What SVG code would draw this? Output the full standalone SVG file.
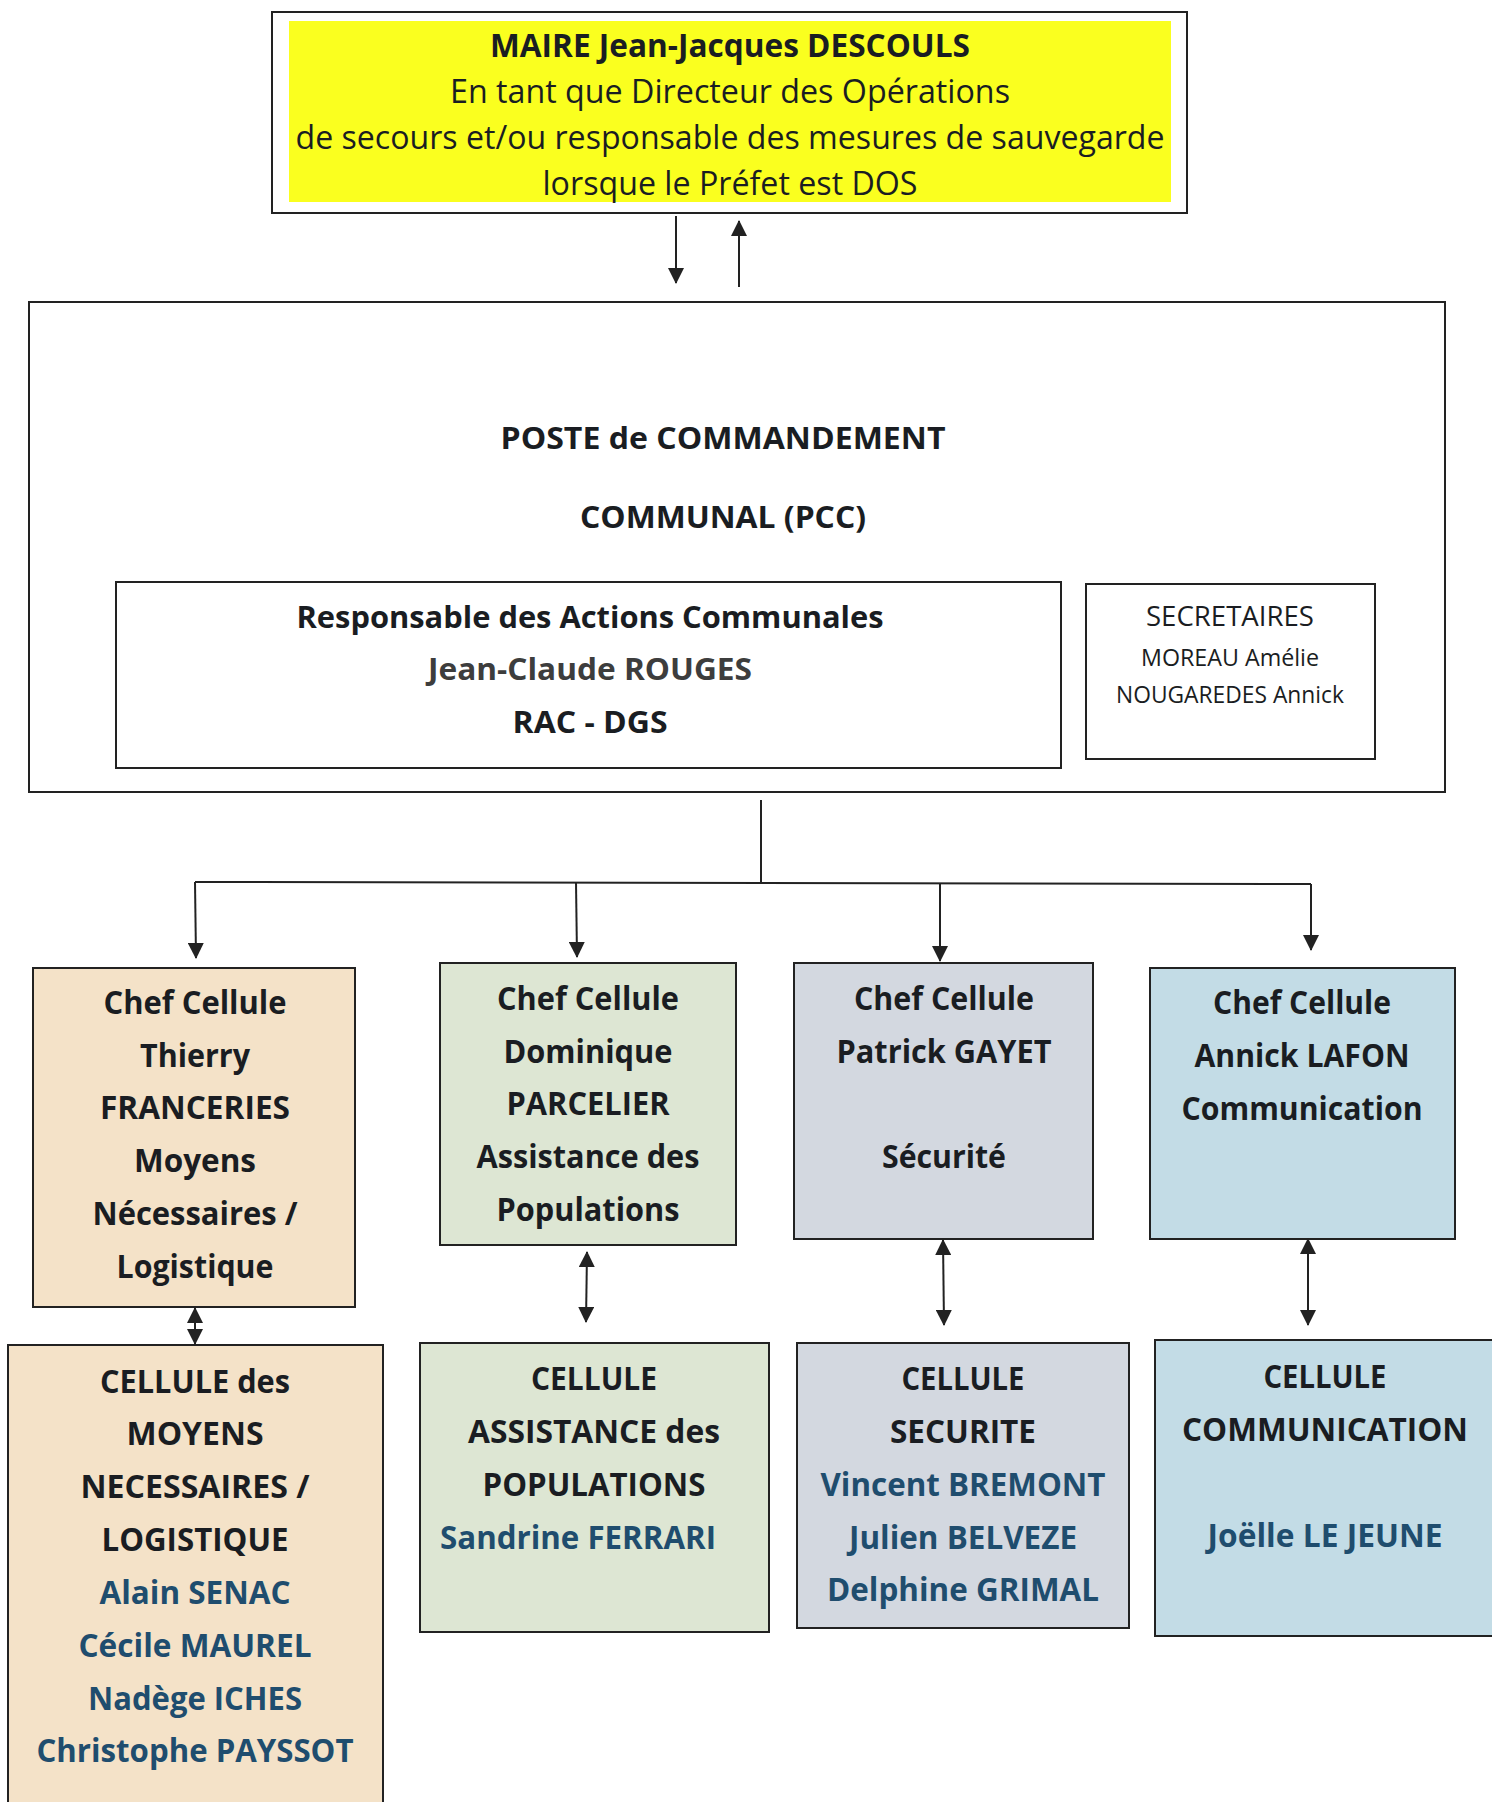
<svg xmlns="http://www.w3.org/2000/svg" width="1492" height="1802" viewBox="0 0 1492 1802">
<style>
.box{stroke:#222;stroke-width:2}
.t{font-family:"Open Sans","Noto Sans","Liberation Sans",sans-serif;text-anchor:middle}
.b{font-weight:700}
.k{fill:#1a1d22}
.n{fill:#1f4d6e}
.r{font-weight:400}
.c{stroke:#222;stroke-width:2;fill:none}
.s{font-size:33px}
</style>
<defs>
<marker id="ah" viewBox="0 0 16 16" refX="15" refY="8" markerWidth="16" markerHeight="16" markerUnits="userSpaceOnUse" orient="auto-start-reverse">
<path d="M0,0 L16,8 L0,16 Z" fill="#222"/>
</marker>
</defs>
<rect width="1492" height="1802" fill="#ffffff"/>

<g id="maire">
<rect class="box" x="272" y="12" width="915" height="201" fill="#ffffff"/>
<rect x="289" y="21" width="882" height="181" fill="#FAFF1F"/>
<text class="t b k" x="730" y="57" font-size="32" textLength="480" lengthAdjust="spacingAndGlyphs">MAIRE Jean-Jacques DESCOULS</text>
<text class="t r k" x="730" y="103" font-size="32" textLength="560" lengthAdjust="spacingAndGlyphs">En tant que Directeur des Opérations</text>
<text class="t r k" x="730" y="149" font-size="32" textLength="869" lengthAdjust="spacingAndGlyphs">de secours et/ou responsable des mesures de sauvegarde</text>
<text class="t r k" x="730" y="195" font-size="32" textLength="375" lengthAdjust="spacingAndGlyphs">lorsque le Préfet est DOS</text>
</g>

<g id="pcc">
<rect class="box" x="29" y="302" width="1416" height="490" fill="#ffffff"/>
<text class="t b k" x="723" y="449" font-size="31" textLength="445" lengthAdjust="spacingAndGlyphs">POSTE de COMMANDEMENT</text>
<text class="t b k" x="723" y="528" font-size="31" textLength="286" lengthAdjust="spacingAndGlyphs">COMMUNAL (PCC)</text>
</g>

<g id="rac">
<rect class="box" x="116" y="582" width="945" height="186" fill="#ffffff"/>
<text class="t b k" x="590" y="628" font-size="31" textLength="587" lengthAdjust="spacingAndGlyphs">Responsable des Actions Communales</text>
<text class="t b" x="590" y="680" font-size="31" fill="#3d3d3d" textLength="324" lengthAdjust="spacingAndGlyphs">Jean-Claude ROUGES</text>
<text class="t b k" x="590" y="733" font-size="31" textLength="155" lengthAdjust="spacingAndGlyphs">RAC - DGS</text>
</g>

<g id="secretaires">
<rect class="box" x="1086" y="584" width="289" height="175" fill="#ffffff"/>
<text class="t r k" x="1230" y="626" font-size="27" textLength="168" lengthAdjust="spacingAndGlyphs">SECRETAIRES</text>
<text class="t r k" x="1230" y="666" font-size="23" textLength="178" lengthAdjust="spacingAndGlyphs">MOREAU Amélie</text>
<text class="t r k" x="1230" y="703" font-size="23" textLength="228" lengthAdjust="spacingAndGlyphs">NOUGAREDES Annick</text>
</g>

<g id="chef-logistique">
<rect class="box" x="33" y="968" width="322" height="339" fill="#F4E2C8"/>
<text class="t b k s" x="195" y="1014" textLength="183" lengthAdjust="spacingAndGlyphs">Chef Cellule</text>
<text class="t b k s" x="195" y="1067" textLength="110" lengthAdjust="spacingAndGlyphs">Thierry</text>
<text class="t b k s" x="195" y="1119" textLength="190" lengthAdjust="spacingAndGlyphs">FRANCERIES</text>
<text class="t b k s" x="195" y="1172" textLength="122" lengthAdjust="spacingAndGlyphs">Moyens</text>
<text class="t b k s" x="195" y="1225" textLength="205" lengthAdjust="spacingAndGlyphs">Nécessaires /</text>
<text class="t b k s" x="195" y="1278" textLength="157" lengthAdjust="spacingAndGlyphs">Logistique</text>
</g>

<g id="chef-assistance">
<rect class="box" x="440" y="963" width="296" height="282" fill="#DDE6D3"/>
<text class="t b k s" x="588" y="1010" textLength="182" lengthAdjust="spacingAndGlyphs">Chef Cellule</text>
<text class="t b k s" x="588" y="1063" textLength="169" lengthAdjust="spacingAndGlyphs">Dominique</text>
<text class="t b k s" x="588" y="1115" textLength="163" lengthAdjust="spacingAndGlyphs">PARCELIER</text>
<text class="t b k s" x="588" y="1168" textLength="223" lengthAdjust="spacingAndGlyphs">Assistance des</text>
<text class="t b k s" x="588" y="1221" textLength="183" lengthAdjust="spacingAndGlyphs">Populations</text>
</g>

<g id="chef-securite">
<rect class="box" x="794" y="963" width="299" height="276" fill="#D3D8E0"/>
<text class="t b k s" x="944" y="1010" textLength="180" lengthAdjust="spacingAndGlyphs">Chef Cellule</text>
<text class="t b k s" x="944" y="1063" textLength="215" lengthAdjust="spacingAndGlyphs">Patrick GAYET</text>
<text class="t b k s" x="944" y="1168" textLength="124" lengthAdjust="spacingAndGlyphs">Sécurité</text>
</g>

<g id="chef-communication">
<rect class="box" x="1150" y="968" width="305" height="271" fill="#C3DCE6"/>
<text class="t b k s" x="1302" y="1014" textLength="178" lengthAdjust="spacingAndGlyphs">Chef Cellule</text>
<text class="t b k s" x="1302" y="1067" textLength="215" lengthAdjust="spacingAndGlyphs">Annick LAFON</text>
<text class="t b k s" x="1302" y="1120" textLength="241" lengthAdjust="spacingAndGlyphs">Communication</text>
</g>

<g id="cellule-logistique">
<rect class="box" x="8" y="1345" width="375" height="470" fill="#F4E2C8"/>
<text class="t b k s" x="195" y="1393" textLength="190" lengthAdjust="spacingAndGlyphs">CELLULE des</text>
<text class="t b k s" x="195" y="1445" textLength="137" lengthAdjust="spacingAndGlyphs">MOYENS</text>
<text class="t b k s" x="195" y="1498" textLength="229" lengthAdjust="spacingAndGlyphs">NECESSAIRES /</text>
<text class="t b k s" x="195" y="1551" textLength="187" lengthAdjust="spacingAndGlyphs">LOGISTIQUE</text>
<text class="t b n s" x="195" y="1604" textLength="191" lengthAdjust="spacingAndGlyphs">Alain SENAC</text>
<text class="t b n s" x="195" y="1657" textLength="233" lengthAdjust="spacingAndGlyphs">Cécile MAUREL</text>
<text class="t b n s" x="195" y="1710" textLength="214" lengthAdjust="spacingAndGlyphs">Nadège ICHES</text>
<text class="t b n s" x="195" y="1762" textLength="317" lengthAdjust="spacingAndGlyphs">Christophe PAYSSOT</text>
</g>

<g id="cellule-assistance">
<rect class="box" x="420" y="1343" width="349" height="289" fill="#DDE6D3"/>
<text class="t b k s" x="594" y="1390" textLength="126" lengthAdjust="spacingAndGlyphs">CELLULE</text>
<text class="t b k s" x="594" y="1443" textLength="252" lengthAdjust="spacingAndGlyphs">ASSISTANCE des</text>
<text class="t b k s" x="594" y="1496" textLength="223" lengthAdjust="spacingAndGlyphs">POPULATIONS</text>
<text class="t b n s" x="578" y="1549" textLength="276" lengthAdjust="spacingAndGlyphs">Sandrine FERRARI</text>
</g>

<g id="cellule-securite">
<rect class="box" x="797" y="1343" width="332" height="285" fill="#D3D8E0"/>
<text class="t b k s" x="963" y="1390" textLength="123" lengthAdjust="spacingAndGlyphs">CELLULE</text>
<text class="t b k s" x="963" y="1443" textLength="146" lengthAdjust="spacingAndGlyphs">SECURITE</text>
<text class="t b n s" x="963" y="1496" textLength="285" lengthAdjust="spacingAndGlyphs">Vincent BREMONT</text>
<text class="t b n s" x="963" y="1549" textLength="228" lengthAdjust="spacingAndGlyphs">Julien BELVEZE</text>
<text class="t b n s" x="963" y="1601" textLength="272" lengthAdjust="spacingAndGlyphs">Delphine GRIMAL</text>
</g>

<g id="cellule-communication">
<rect class="box" x="1155" y="1340" width="345" height="296" fill="#C3DCE6"/>
<text class="t b k s" x="1325" y="1388" textLength="123" lengthAdjust="spacingAndGlyphs">CELLULE</text>
<text class="t b k s" x="1325" y="1441" textLength="286" lengthAdjust="spacingAndGlyphs">COMMUNICATION</text>
<text class="t b n s" x="1325" y="1547" textLength="235" lengthAdjust="spacingAndGlyphs">Joëlle LE JEUNE</text>
</g>

<g id="connectors">
<line class="c" x1="676" y1="216" x2="676" y2="283" marker-end="url(#ah)"/>
<line class="c" x1="739" y1="287" x2="739" y2="221" marker-end="url(#ah)"/>
<line class="c" x1="761" y1="800" x2="761" y2="882"/>
<polyline class="c" points="195,882 1311,884"/>
<line class="c" x1="195" y1="882" x2="196" y2="958" marker-end="url(#ah)"/>
<line class="c" x1="576" y1="882" x2="577" y2="957" marker-end="url(#ah)"/>
<line class="c" x1="940" y1="884" x2="940" y2="961" marker-end="url(#ah)"/>
<line class="c" x1="1311" y1="884" x2="1311" y2="950" marker-end="url(#ah)"/>
<line class="c" x1="195" y1="1308" x2="195" y2="1344" marker-start="url(#ah)" marker-end="url(#ah)"/>
<line class="c" x1="587" y1="1252" x2="586" y2="1322" marker-start="url(#ah)" marker-end="url(#ah)"/>
<line class="c" x1="943" y1="1240" x2="944" y2="1325" marker-start="url(#ah)" marker-end="url(#ah)"/>
<line class="c" x1="1308" y1="1239" x2="1308" y2="1325" marker-start="url(#ah)" marker-end="url(#ah)"/>
</g>
</svg>
